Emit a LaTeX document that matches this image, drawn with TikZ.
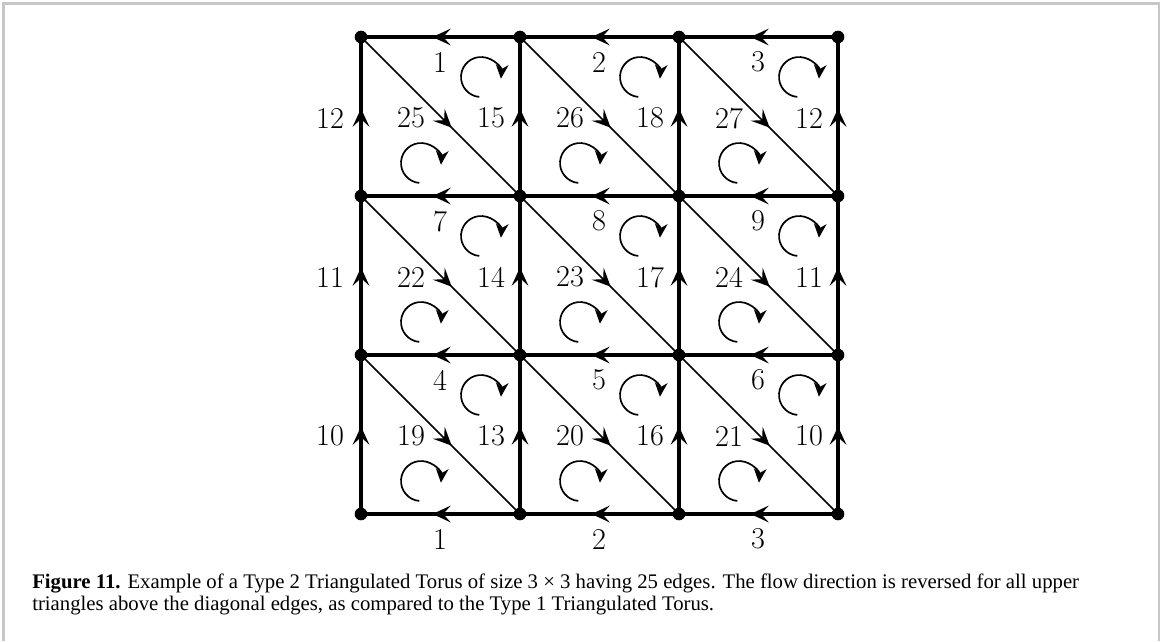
\documentclass[tikz,border=0pt]{standalone}
\usepackage{fontspec}
\newfontfamily\capfont{Liberation Serif}
\usetikzlibrary{arrows.meta,decorations.markings}
\begin{document}
\begin{tikzpicture}[x=0.025cm,y=0.025cm,
  frame/.style={draw=black!22, line width=1.5pt},
  gridedge/.style={line width=2.3pt, postaction={decorate},
    decoration={markings, mark=at position 0.55 with {\arrow{Stealth[length=13pt,width=12pt,inset=5.5pt,line width=1pt]}}}},
  diagedge/.style={line width=1.2pt, postaction={decorate},
    decoration={markings, mark=at position 0.57 with {\arrow{Stealth[length=13pt,width=12pt,inset=5.5pt,line width=0.8pt]}}}},
  vdot/.style={circle, fill=black, inner sep=0pt, minimum size=9pt},
  lab/.style={font=\fontsize{21.5}{24}\selectfont, inner sep=0pt},
  flow/.style={line width=1.2pt, -{Stealth[length=10pt,width=9pt,inset=3pt]}},
  captxt/.style={font=\capfont\fontsize{14.75}{17}\selectfont, inner sep=0pt, anchor=base west}]
\useasboundingbox (0,0) rectangle (1163,-641);
\draw[frame] (3.5,-641) -- (3.5,-3.5) -- (1159,-3.5) -- (1159,-641);
% vertices
\foreach \c in {0,...,3}
  \foreach \r in {0,...,3}
    \coordinate (v-\c-\r) at ({361+159*\c},{-37-159*\r});
% horizontal edges (pointing left)
\foreach \r in {0,...,3}
  \foreach \c [count=\d from 1] in {0,1,2}
    \draw[gridedge] (v-\d-\r) -- (v-\c-\r);
% vertical edges (pointing up)
\foreach \c in {0,...,3}
  \foreach \r [count=\s from 1] in {0,1,2}
    \draw[gridedge] (v-\c-\s) -- (v-\c-\r);
% diagonal edges (pointing down-right)
\foreach \c [count=\d from 1] in {0,1,2}
  \foreach \r [count=\s from 1] in {0,1,2}
    \draw[diagedge] (v-\c-\r) -- (v-\d-\s);
% dots
\foreach \c in {0,...,3}
  \foreach \r in {0,...,3}
    \node[vdot] (d-\c-\r) at (v-\c-\r) {};
% cell labels and flow circles
\foreach \c/\r/\t/\g/\h in {0/0/1/25/15, 1/0/2/26/18, 2/0/3/27/12,
                             0/1/7/22/14, 1/1/8/23/17, 2/1/9/24/11,
                             0/2/4/19/13, 1/2/5/20/16, 2/2/6/21/10}{
  \node[lab] (t-\c-\r) at ({361+159*\c+79},{-37-159*\r-25}) {\t};
  \node[lab] (g-\c-\r) at ({361+159*\c+50},{-37-159*\r-81}) {\g};
  \node[lab] (h-\c-\r) at ({361+159*\c+130},{-37-159*\r-81}) {\h};
  \draw[flow] ({361+159*\c+120},{-37-159*\r-40}) ++(265:20) arc[start angle=265, end angle=-5, radius=20];
  \draw[flow] ({361+159*\c+60},{-37-159*\r-126}) ++(265:20) arc[start angle=265, end angle=-5, radius=20];
}
% left column labels
\foreach \r/\t in {0/12, 1/11, 2/10}
  \node[lab] (l-\r) at ({361-31},{-37-159*\r-81}) {\t};
% bottom labels
\foreach \c/\t in {0/1, 1/2, 2/3}
  \node[lab] (b-\c) at ({361+159*\c+79},{-514-25}) {\t};
% caption
\node[captxt] (cap1) at (32,-588) {\textbf{Figure 11.} Example of a Type 2 Triangulated Torus of size 3 × 3 having 25 edges. The flow direction is reversed for all upper};
\node[captxt] (cap2) at (32,-610) {triangles above the diagonal edges, as compared to the Type 1 Triangulated Torus.};
\end{tikzpicture}
\end{document}
